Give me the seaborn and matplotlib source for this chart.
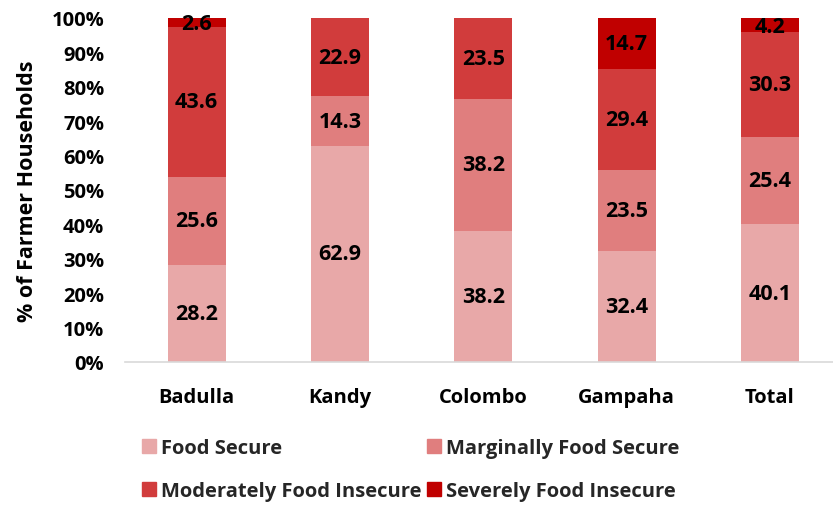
import matplotlib
matplotlib.use("Agg")
import matplotlib.pyplot as plt
import matplotlib.patches as mpatches
import numpy as np
import pandas as pd
import seaborn as sns

districts = ["Badulla", "Kandy", "Colombo", "Gampaha", "Total"]
food_secure = [28.2, 62.9, 38.2, 32.4, 40.1]
marginally_secure = [25.6, 14.3, 38.2, 23.5, 25.4]
moderately_insecure = [43.6, 22.9, 23.5, 29.4, 30.3]
severely_insecure = [2.6, 0.0, 0.0, 14.7, 4.2]

categories = ["Food Secure", "Marginally Food Secure",
              "Moderately Food Insecure", "Severely Food Insecure"]
colors = ["#E8A8A8", "#E07E7E", "#D13C3C", "#C00000"]
series = [food_secure, marginally_secure, moderately_insecure, severely_insecure]

sns.set_theme(style="white")
plt.rcParams["font.family"] = ["Open Sans", "DejaVu Sans"]
plt.rcParams["font.weight"] = "bold"

fig = plt.figure(figsize=(8.33, 5.06), dpi=100)
ax = fig.add_axes([125 / 833, 1 - 363 / 506, 708 / 833, 344 / 506])

vals = np.array(series)
cum = np.cumsum(vals, axis=0)

# Stacked bars: draw cumulative heights from the top layer down
for i in range(len(categories) - 1, -1, -1):
    df = pd.DataFrame({"district": districts, "value": cum[i]})
    sns.barplot(data=df, x="district", y="value", color=colors[i],
                width=0.405, saturation=1, ax=ax, errorbar=None,
                edgecolor="none", linewidth=0)

# Segment value labels
for i in range(len(categories)):
    for j, d in enumerate(districts):
        v = vals[i, j]
        if v <= 0:
            continue
        bottom = cum[i, j] - v
        y = bottom + v / 2
        if v < 5:
            y = cum[i, j] - v / 2 - 0.3
        ax.text(j, y, f"{v:.1f}", ha="center", va="center",
                fontsize=15.5, fontweight="bold", color="black")

ax.set_xlim(-0.5, -0.5 + 708 / 143.3)
ax.set_ylim(0, 100)
ax.set_yticks(np.arange(0, 101, 10))
ax.set_yticklabels([f"{t}%" for t in range(0, 101, 10)],
                   fontsize=14.5, fontweight="bold", color="black")
ax.set_xticks(range(len(districts)))
ax.set_xticklabels(districts, fontsize=14.5, fontweight="bold", color="black")
ax.tick_params(axis="x", length=0, pad=18)
ax.tick_params(axis="y", length=0, pad=15)
ax.set_xlabel("")
ax.set_ylabel("% of Farmer Households", fontsize=15.5, fontweight="bold",
              color="black", labelpad=10)

for side in ["top", "right", "left"]:
    ax.spines[side].set_visible(False)
ax.spines["bottom"].set_color("#D9D9D9")
ax.spines["bottom"].set_linewidth(1.2)
ax.grid(False)

handles = [mpatches.Patch(color=c, label=l) for c, l in zip(colors, categories)]
order = [0, 2, 1, 3]
leg = fig.legend([handles[k] for k in order], [categories[k] for k in order],
                 ncol=2, loc="upper left", bbox_to_anchor=(124 / 833, 1 - 421 / 506),
                 frameon=False, prop={"size": 14.5, "weight": "bold"},
                 handlelength=0.7, handleheight=0.7, handletextpad=0.25,
                 columnspacing=0.25, labelspacing=1.15)

fig.savefig("out.png", dpi=100)
